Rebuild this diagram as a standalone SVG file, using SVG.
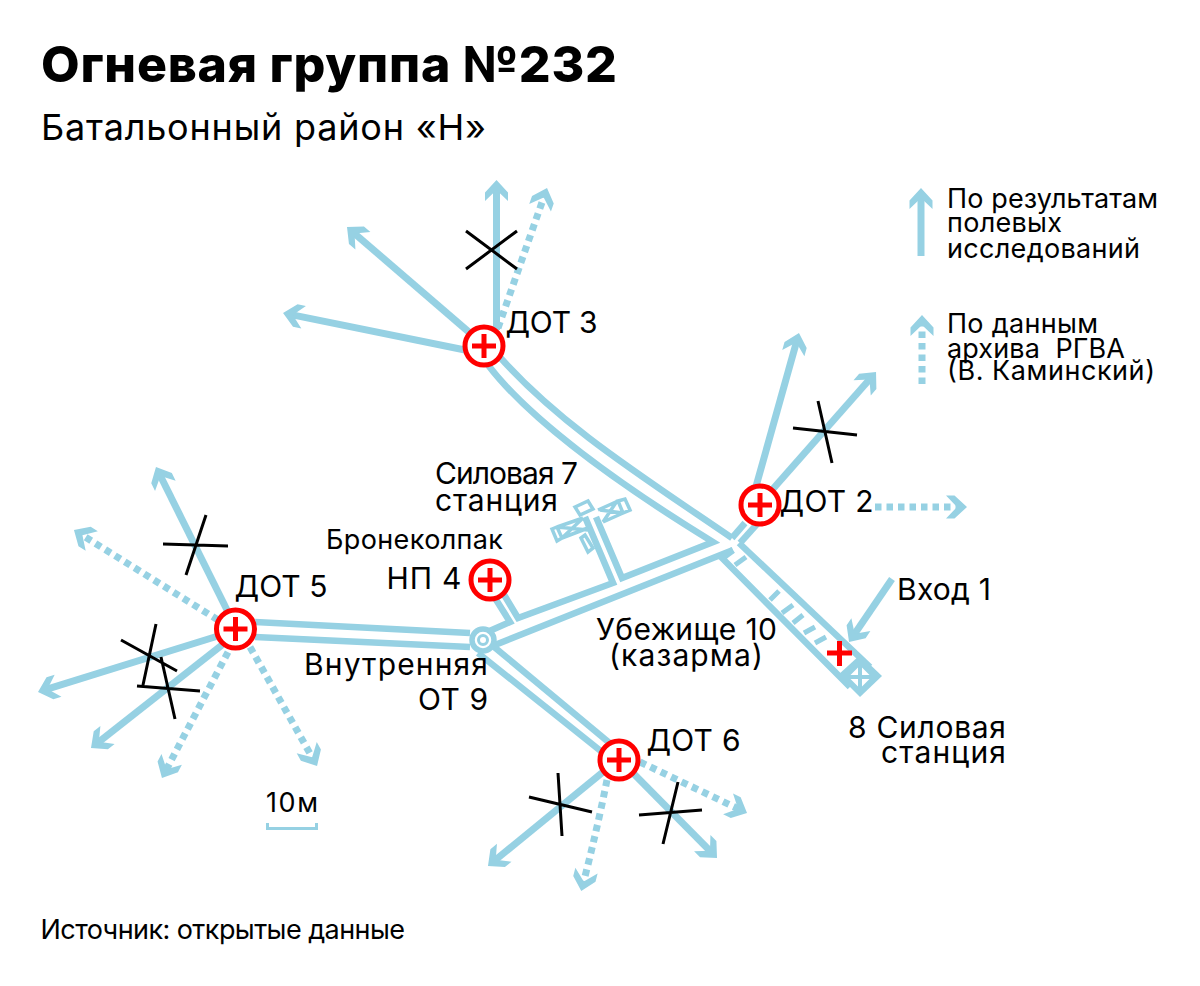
<svg xmlns="http://www.w3.org/2000/svg" width="1200" height="986" viewBox="0 0 1200 986">
<style>
text{font-family:"Inter","Noto Sans",sans-serif;font-size:30px;fill:#000;white-space:pre}
.s{font-size:27px}
.l{font-size:27px}
.t{font-size:50px;font-weight:800}
.st{font-size:36px}
.a,.d,.w,.f{fill:none;stroke:#96d1e3}
.a{stroke-width:7;marker-end:url(#h)}
.d{stroke-width:7;stroke-dasharray:6.5 5;marker-end:url(#h)}
.w{stroke-width:6.5}
.f{stroke-width:3.5}
.x{fill:none;stroke:#000;stroke-width:3}
.c{fill:#fff;stroke:#f00;stroke-width:5}
.p{fill:none;stroke:#f00;stroke-width:5}
</style>
<defs>
<marker id="h" markerUnits="userSpaceOnUse" markerWidth="44" markerHeight="44" refX="0" refY="0" orient="auto" viewBox="-22 -22 44 44"><path d="M7,0L-5.500,-11.500H-14L-3,0L-14,11.500H-5.500Z" fill="#96d1e3"/></marker>
</defs>
<rect width="1200" height="986" fill="#fff"/>
<g id="connectors">
<path class="a" d="M496.5,330V187"/>
<path class="d" d="M498,328L544.7,194.6"/>
<path class="a" d="M470,333L352.3,231.6"/>
<path class="a" d="M465,350L289.9,314.4"/>
<path class="a" d="M228,612L159.1,473.3"/>
<path class="d" d="M218,620L79.9,533.7"/>
<path class="a" d="M218,636L44.7,689.9"/>
<path class="a" d="M222,645L96.5,743.7"/>
<path class="d" d="M228,652L165.2,771.8"/>
<path class="d" d="M250,647L313.6,759.9"/>
<path class="a" d="M603,772L493.4,861.6"/>
<path class="d" d="M607,780Q597,830 583,884.3"/>
<path class="a" d="M630,770L712.1,853"/>
<path class="d" d="M640,762L740.7,810"/>
<path class="a" d="M755,490L797.1,339.7"/>
<path class="a" d="M772,490L871.4,377.3"/>
<path class="d" d="M875,507H960"/>
<path class="a" d="M892,579L853,636.2"/>
<path class="w" d="M498,355C560,425 640,475 732,538"/>
<path class="w" d="M488,365C530,420 620,485 713,542L622,578L596,517"/>
<path class="w" d="M585,517L613,583L518,618L503,593"/>
<path class="w" d="M495,598L510,622L485,633"/>
<path class="w" d="M495,645L733,550"/>
<path class="w" d="M255,622L470,633"/>
<path class="w" d="M255,637L470,647"/>
<path class="w" d="M493,646L612,745"/>
<path class="w" d="M478,653L602,752"/>
<path class="w" d="M732,538L745,523"/>
<path class="w" d="M740,543L758,523"/>
<path class="w" d="M739,543L870,667"/>
<path class="w" d="M733,550L722,558L850,687"/>
<path class="w" style="stroke-width:5" d="M735,565L746,557M770,600L779,591M782,613L793,605M793,623L803,615M804,633L815,627M815,643L826,637"/>
</g>
<g id="shelter-end">
<path d="M860,655L882,676L860,697L838,675Z" fill="#96d1e3"/>
<path d="M860,665.5L871.5,677L860,688.5L848.5,677Z" fill="#fff"/>
<path class="f" style="stroke-width:4" d="M860,664V690M847,677H873"/>
<path class="p" d="M827,653H852M839.500,641V666"/>
</g>
<g id="station-7">
<path class="f" d="M557,527L583,518M562,538L588,528M552,529L557,527L562,538L557,541ZM557,527L588,530M562,538L583,518"/>
<path class="f" d="M598,510L618,501M603,522L623,513M618,501L625,499L630,510L623,513ZM600,510L623,513M617,501L603,522"/>
<path class="f" d="M575,507L588,501L593,509L580,515Z"/>
<path class="f" d="M581,538L585,535L593,548L588,552Z"/>
</g>
<g id="ot9">
<circle cx="483" cy="640" r="11" fill="#fff" stroke="#96d1e3" stroke-width="5.500"/>
<circle cx="483" cy="640" r="4.500" fill="#fff" stroke="#96d1e3" stroke-width="3"/>
</g>
<g id="crosses">
<path class="x" d="M466,231L517,269M466,269L517,231"/>
<path class="x" d="M163,544L228,546M206,515L186,575"/>
<path class="x" d="M121,640L177,671M156,624L143,685M137,686L200,691M161,657L175,719"/>
<path class="x" d="M529,797L592,812M558,773L562,836"/>
<path class="x" d="M639,815L702,810M678,782L663,844"/>
<path class="x" d="M793,428L857,435M818,401L832,463"/>
</g>
<g id="dot3"><circle class="c" cx="484" cy="346" r="19"/><path class="p" d="M472,346H496M484,334V358"/><text x="505.500" y="333" textLength="92">ДОТ 3</text></g>
<g id="dot2"><circle class="c" cx="760" cy="505" r="19"/><path class="p" d="M748,505H772M760,493V517"/><text x="779.500" y="512" textLength="94">ДОТ 2</text></g>
<g id="np4"><circle class="c" cx="490" cy="580" r="19"/><path class="p" d="M478,580H502M490,568V592"/><text x="386.500" y="589" textLength="75">НП 4</text><text class="s" x="326" y="549" textLength="177">Бронеколпак</text></g>
<g id="dot5"><circle class="c" cx="235.500" cy="629" r="19"/><path class="p" d="M223.500,629H247.500M235.500,617V641"/><text x="234.500" y="597" textLength="93">ДОТ 5</text></g>
<g id="dot6"><circle class="c" cx="619" cy="760" r="19"/><path class="p" d="M607,760H631M619,748V772"/><text x="646.500" y="751" textLength="94">ДОТ 6</text></g>
<g id="labels">
<text class="t" x="41" y="82" textLength="576">Огневая группа №232</text>
<text class="st" x="41" y="140" textLength="445">Батальонный район «Н»</text>
<text x="435" y="484" textLength="143">Силовая 7</text>
<text x="435" y="511" textLength="123">станция</text>
<text x="304" y="675" textLength="184">Внутренняя</text>
<text x="418" y="710" textLength="70">ОТ 9</text>
<text x="596" y="640" textLength="181">Убежище 10</text>
<text x="609" y="666" textLength="154">(казарма)</text>
<text x="897" y="600" textLength="94">Вход 1</text>
<text x="848" y="738" textLength="158">8 Силовая</text>
<text x="881" y="763" textLength="125">станция</text>
<text class="s" x="266" y="812" textLength="52">10м</text>
<text class="s" x="40.500" y="939" textLength="364.500">Источник: открытые данные</text>
</g>
<g id="scale"><path d="M267.500,823V828.500H316.500V823" fill="none" stroke="#96d1e3" stroke-width="3"/></g>
<g id="legend">
<path class="a" d="M921,256V195"/>
<path class="d" d="M922,384V322"/>
<text class="l" x="947" y="208" textLength="211">По результатам</text>
<text class="l" x="947" y="232" textLength="115">полевых</text>
<text class="l" x="947" y="258" textLength="193">исследований</text>
<text class="l" x="947" y="333" textLength="151">По данным</text>
<text class="l" x="947" y="358" textLength="178">архива  РГВА</text>
<text class="l" x="947" y="380" textLength="208">(В. Каминский)</text>
</g>
</svg>
